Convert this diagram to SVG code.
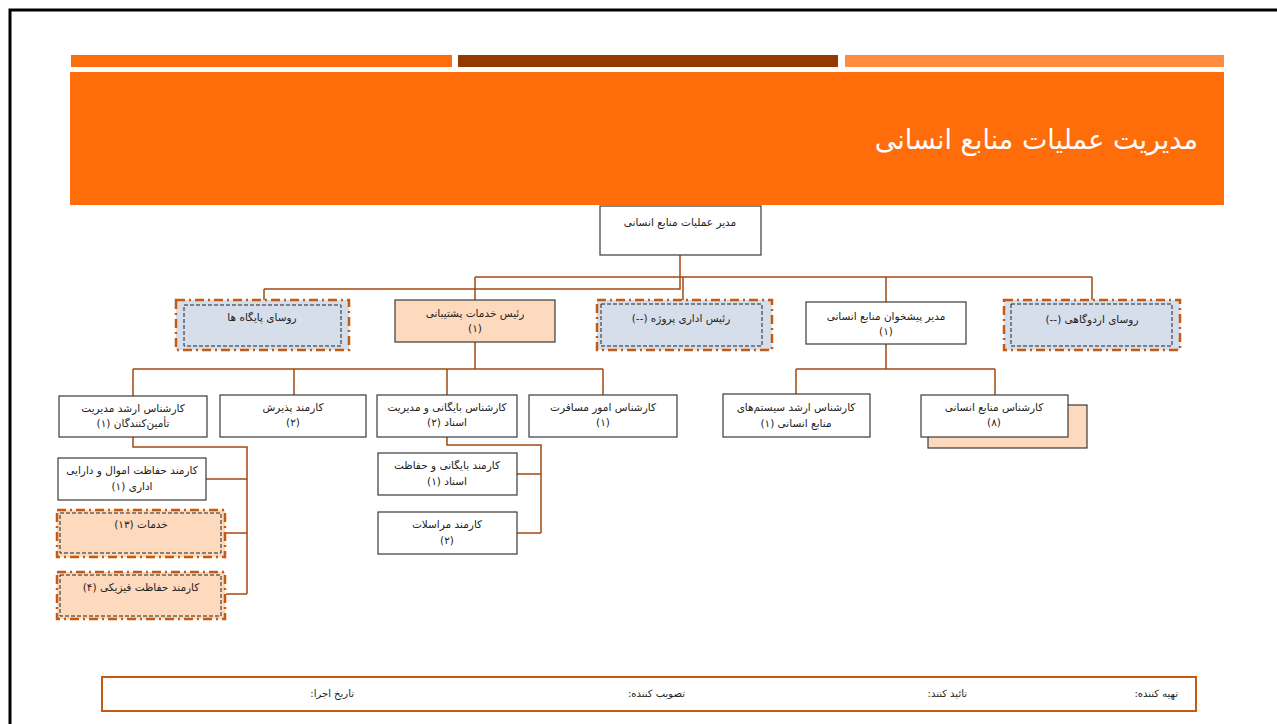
<svg xmlns="http://www.w3.org/2000/svg" width="1277" height="724" viewBox="0 0 1277 724">
  <style>
    .node { fill: #ffffff; stroke: #3a3a3a; stroke-width: 1.2; }
    .peach { fill: #fdd9bd; stroke: #3a3a3a; stroke-width: 1.2; }
    .vac-outer { fill: #d6deeb; stroke: #c55a11; stroke-width: 2.5; stroke-dasharray: 9 4 2 4; }
    .vac-outer-p { fill: #fdd9bd; stroke: #c55a11; stroke-width: 2.5; stroke-dasharray: 9 4 2 4; }
    .vac-inner { fill: none; stroke: #222; stroke-width: 1; stroke-dasharray: 4 2; }
    .link { fill: none; stroke: #a24a12; stroke-width: 1.5; }
    .t { font-family: "DejaVu Sans", "Noto Sans", sans-serif; font-size: 10.5px; fill: #222; text-anchor: middle; direction: rtl; }
    /* right-aligned labels: in rtl, "start" is the right edge */
    .foot { font-family: "DejaVu Sans", "Noto Sans", sans-serif; font-size: 10px; fill: #222; text-anchor: start; direction: rtl; }
  </style>

  <!-- page frame -->
  <rect x="0" y="0" width="1277" height="724" fill="#ffffff"/>
  <path d="M10 724 V10 H1277" fill="none" stroke="#000" stroke-width="3"/>

  <!-- header strips and title band -->
  <rect x="71" y="55" width="381" height="12" fill="#ff6d0b"/>
  <rect x="458" y="55" width="380" height="12" fill="#933a00"/>
  <rect x="845" y="55" width="379" height="12" fill="#ff8c40"/>
  <rect x="70" y="72" width="1154" height="133" fill="#ff6d0b"/>
  <text x="1198" y="149" font-family="DejaVu Sans, sans-serif" font-size="27" fill="#ffffff" text-anchor="start" direction="rtl">مدیریت عملیات منابع انسانی</text>

  <!-- connectors -->
  <g id="connectors">
    <path class="link" d="M680 255 V289 M475 277 H1092 M264 289 H680 V277"/>
    <path class="link" d="M264 289 V300 M683 277 V300 M475 277 V300 M886 277 V302 M1092 277 V300"/>
    <path class="link" d="M475 342 V369 M133 369 H603 M133 369 V396 M294 369 V395 M447 369 V395 M603 369 V395"/>
    <path class="link" d="M886 344 V369 M796 369 H995 M796 369 V394 M995 369 V395"/>
    <path class="link" d="M133 437 V447 H247 V594 M206 479 H247 M226 533 H247 M226 594 H247"/>
    <path class="link" d="M447 437 V445 H541 V533 M517 474 H541 M517 533 H541"/>
  </g>

  <!-- level 0 -->
  <g id="n-head">
    <rect class="node" x="600" y="206" width="161" height="49"/>
    <text class="t" x="680" y="226">مدیر عملیات منابع انسانی</text>
  </g>

  <!-- level 1 -->
  <g id="n-bases">
    <rect class="vac-outer" x="176" y="300" width="173" height="50"/>
    <rect class="vac-inner" x="184" y="305" width="157" height="41"/>
    <text class="t" x="262" y="321">روسای پایگاه ها</text>
  </g>
  <g id="n-support">
    <rect class="peach" x="395" y="300" width="160" height="42"/>
    <text class="t" x="475" y="317">رئیس خدمات پشتیبانی</text>
    <text class="t" x="475" y="332">(۱)</text>
  </g>
  <g id="n-project">
    <rect class="vac-outer" x="597" y="300" width="175" height="50"/>
    <rect class="vac-inner" x="601" y="304" width="161" height="42"/>
    <text class="t" x="681" y="322">رئیس اداری پروژه (--)</text>
  </g>
  <g id="n-desk">
    <rect class="node" x="806" y="302" width="160" height="42"/>
    <text class="t" x="886" y="320">مدیر پیشخوان منابع انسانی</text>
    <text class="t" x="886" y="335">(۱)</text>
  </g>
  <g id="n-camps">
    <rect class="vac-outer" x="1004" y="300" width="176" height="50"/>
    <rect class="vac-inner" x="1011" y="304" width="161" height="42"/>
    <text class="t" x="1092" y="323">روسای اردوگاهی (--)</text>
  </g>

  <!-- level 2 -->
  <g id="n-suppliers">
    <rect class="node" x="59" y="396" width="148" height="41"/>
    <text class="t" x="133" y="412">کارشناس ارشد مدیریت</text>
    <text class="t" x="133" y="427">تأمین‌کنندگان (۱)</text>
  </g>
  <g id="n-reception">
    <rect class="node" x="220" y="395" width="146" height="42"/>
    <text class="t" x="293" y="411">کارمند پذیرش</text>
    <text class="t" x="293" y="426">(۲)</text>
  </g>
  <g id="n-archive">
    <rect class="node" x="377" y="395" width="140" height="42"/>
    <text class="t" x="447" y="411">کارشناس بایگانی و مدیریت</text>
    <text class="t" x="447" y="426">اسناد (۲)</text>
  </g>
  <g id="n-travel">
    <rect class="node" x="529" y="395" width="148" height="42"/>
    <text class="t" x="603" y="411">کارشناس امور مسافرت</text>
    <text class="t" x="603" y="426">(۱)</text>
  </g>
  <g id="n-hrsys">
    <rect class="node" x="723" y="394" width="147" height="43"/>
    <text class="t" x="796" y="411">کارشناس ارشد سیستم‌های</text>
    <text class="t" x="796" y="427">منابع انسانی (۱)</text>
  </g>
  <g id="n-hr">
    <rect class="peach" x="928" y="405" width="159" height="43"/>
    <rect class="node" x="921" y="395" width="147" height="42"/>
    <text class="t" x="994" y="411">کارشناس منابع انسانی</text>
    <text class="t" x="994" y="426">(۸)</text>
  </g>

  <!-- level 3 under suppliers -->
  <g id="n-assets">
    <rect class="node" x="58" y="458" width="148" height="42"/>
    <text class="t" x="132" y="474">کارمند حفاظت اموال و دارایی</text>
    <text class="t" x="132" y="490">اداری (۱)</text>
  </g>
  <g id="n-services">
    <rect class="vac-outer-p" x="57" y="510" width="168" height="47"/>
    <rect class="vac-inner" x="60" y="513" width="161" height="40"/>
    <text class="t" x="141" y="528">خدمات (۱۳)</text>
  </g>
  <g id="n-guard">
    <rect class="vac-outer-p" x="57" y="572" width="168" height="47"/>
    <rect class="vac-inner" x="60" y="575" width="161" height="41"/>
    <text class="t" x="141" y="591">کارمند حفاظت فیزیکی (۴)</text>
  </g>

  <!-- level 3 under archive -->
  <g id="n-records">
    <rect class="node" x="378" y="453" width="139" height="42"/>
    <text class="t" x="447" y="469">کارمند بایگانی و حفاظت</text>
    <text class="t" x="447" y="485">اسناد (۱)</text>
  </g>
  <g id="n-mail">
    <rect class="node" x="378" y="512" width="139" height="42"/>
    <text class="t" x="447" y="528">کارمند مراسلات</text>
    <text class="t" x="447" y="544">(۲)</text>
  </g>

  <!-- signature strip -->
  <g id="footer">
    <rect x="102" y="677" width="1094" height="34" fill="none" stroke="#c55a11" stroke-width="2"/>
    <text class="foot" x="1178" y="697">تهیه کننده:</text>
    <text class="foot" x="967" y="697">تائید کنند:</text>
    <text class="foot" x="685" y="697">تصویب کننده:</text>
    <text class="foot" x="354" y="697">تاریخ اجرا:</text>
  </g>
</svg>
